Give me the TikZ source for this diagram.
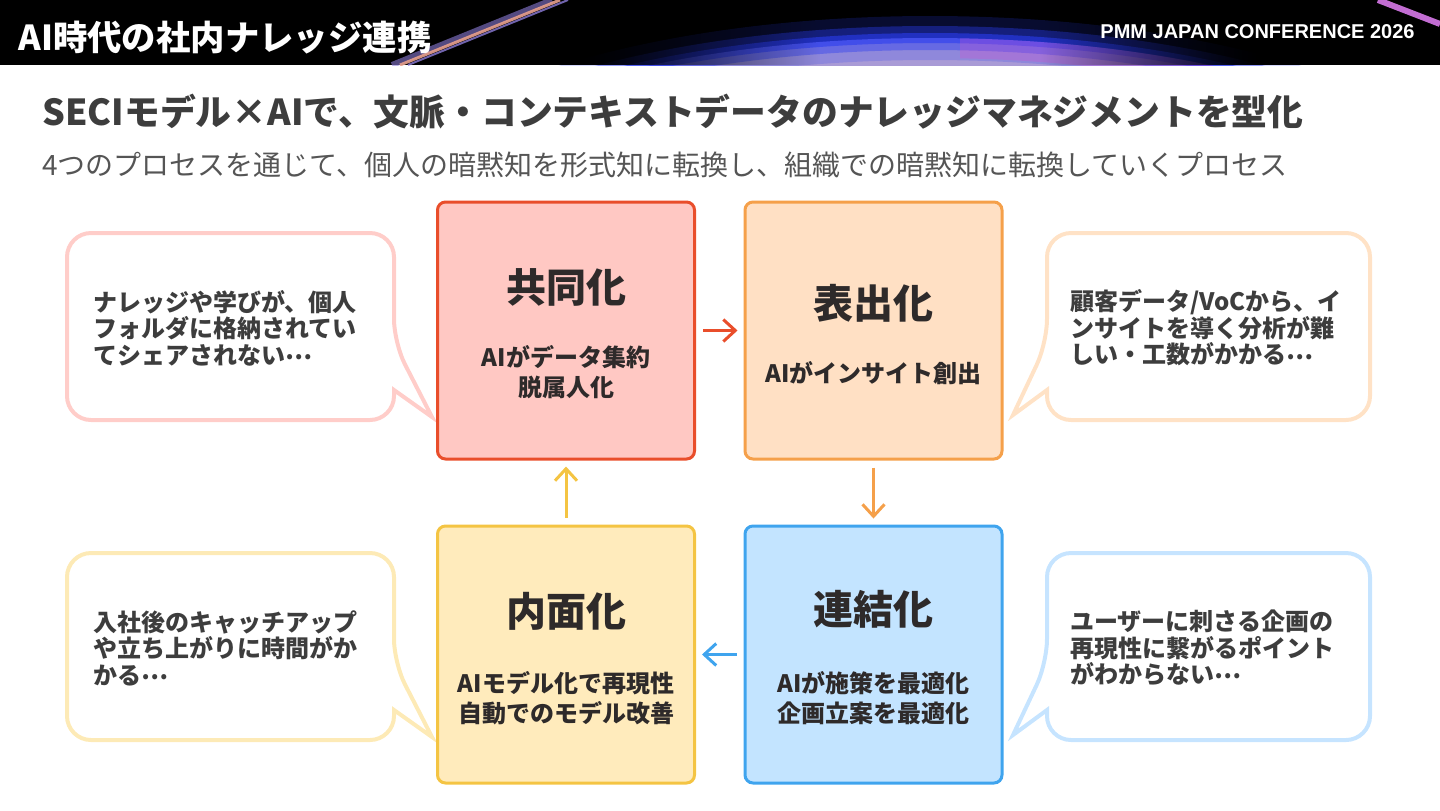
\documentclass[tikz,border=0pt]{standalone}
\usepackage{fontspec}
\setmainfont{Noto Sans CJK JP}
\newfontfamily\pmmfont{Liberation Sans}
\usetikzlibrary{arrows.meta,fadings}

\definecolor{socline}{HTML}{E94E2B}
\definecolor{socfill}{HTML}{FFC8C3}
\definecolor{extline}{HTML}{F5A04A}
\definecolor{extfill}{HTML}{FFE0C4}
\definecolor{comline}{HTML}{3FA4EE}
\definecolor{comfill}{HTML}{C3E4FF}
\definecolor{intline}{HTML}{F4C443}
\definecolor{intfill}{HTML}{FFEBBC}
\definecolor{socbub}{HTML}{FFCDC9}
\definecolor{extbub}{HTML}{FFE2C6}
\definecolor{combub}{HTML}{C6E4FF}
\definecolor{intbub}{HTML}{FDEAB6}
\definecolor{ink}{HTML}{2E2A2A}
\definecolor{txt}{HTML}{3D3D3D}
\definecolor{subtxt}{HTML}{555555}
\definecolor{glowblue}{HTML}{2A3CF0}
\definecolor{glowlav}{HTML}{A99BD6}
\definecolor{glowpink}{HTML}{D24FD0}
\definecolor{streaka}{HTML}{E8A08C}
\definecolor{streakb}{HTML}{8C7CD8}

% raised ellipsis
\newcommand{\dotsjp}{\raisebox{.2em}{…}}

\begin{document}
\begin{tikzpicture}[x=0.5pt,y=-0.5pt,
  procbox/.style={draw, line width=1.5pt, rounded corners=4pt, minimum width=128.5pt, minimum height=128.5pt},
  boxtitle/.style={inner sep=0pt, text=ink, font=\bfseries\fontsize{20}{24}\selectfont},
  boxtext/.style={inner sep=0pt, text=ink, align=center, font=\bfseries\fontsize{12}{15}\selectfont},
  bubble/.style={line width=2pt, rounded corners=12pt},
  bubtext/.style={inner sep=0pt, anchor=west, align=left, text=txt, font=\bfseries\fontsize{12}{13.25}\selectfont},
  flow/.style={line width=1.5pt, -{Straight Barb[length=6pt,width=11pt]}, shorten <=3.5pt, shorten >=3pt}]
\useasboundingbox (0,0) rectangle (1440,810);

% header band
\fill[black] (0,0) rectangle (1440,65);
\begin{scope}
  \clip (0,0) rectangle (1440,65);
  \fill[glowlav] (930,258) ellipse [x radius=290pt, y radius=110pt];
  \draw[glowblue, line width=22pt, opacity=.2] (930,258) ellipse [x radius=290pt, y radius=110pt];
  \draw[glowblue, line width=12pt, opacity=.4] (930,258) ellipse [x radius=290pt, y radius=110pt];
  \draw[glowblue, line width=5pt, opacity=.6] (930,258) ellipse [x radius=290pt, y radius=110pt];
  \begin{scope}
    \clip (960,0) rectangle (1440,65);
    \draw[glowpink, line width=10pt, opacity=.3] (930,268) ellipse [x radius=290pt, y radius=110pt];
  \end{scope}
  \fill[black, path fading=east] (580,0) rectangle (820,65);
  \fill[black, path fading=west] (1040,0) rectangle (1260,65);
  \fill[black] (1259,0) rectangle (1440,65);
  \fill[black] (0,0) rectangle (581,65);
  % light streaks
  \draw[streakb, line width=3pt, opacity=.6] (392,65) -- (552,0);
  \draw[streaka, line width=1.5pt, opacity=.9] (400,65) -- (560,0);
  \draw[streakb, line width=1pt, opacity=.8] (408,65) -- (568,0);
  \draw[glowpink!60!glowlav, line width=3pt] (1378,0) -- (1440,24);
\end{scope}

\node[inner sep=0pt, anchor=west, text=white, font=\bfseries\fontsize{17.2}{20}\selectfont] (ttl) at (18,38) {AI時代の社内ナレッジ連携};
\node[inner sep=0pt, anchor=east, text=white, font=\pmmfont\bfseries\fontsize{10}{11}\selectfont] (conf) at (1415,32) {PMM JAPAN CONFERENCE 2026};

% heading
\node[inner sep=0pt, anchor=west, text=txt, font=\bfseries\fontsize{17.9}{20}\selectfont] (head) at (42,112) {SECIモデル×AIで、文脈・コンテキストデータのナレッジマネジメントを型化};
\node[inner sep=0pt, anchor=west, text=subtxt, font=\fontsize{14}{16}\selectfont] (lead) at (42,165) {4つのプロセスを通じて、個人の暗黙知を形式知に転換し、組織での暗黙知に転換していくプロセス};

% bubbles
\draw[bubble, draw=socbub] (394,390) -- (394,420) -- (67,420) -- (67,233) -- (394,233) -- (394,343) [sharp corners] -- (432,417) -- cycle;
\draw[bubble, draw=extbub] (1047,390) -- (1047,420) -- (1370,420) -- (1370,233) -- (1047,233) -- (1047,343) [sharp corners] -- (1013,415) -- cycle;
\draw[bubble, draw=intbub] (394,710) -- (394,740) -- (67,740) -- (67,553) -- (394,553) -- (394,663) [sharp corners] -- (432,737) -- cycle;
\draw[bubble, draw=combub] (1047,710) -- (1047,740) -- (1370,740) -- (1370,553) -- (1047,553) -- (1047,663) [sharp corners] -- (1013,735) -- cycle;

\node[bubtext] (socQ) at (93,328) {ナレッジや学びが、個人\\フォルダに格納されてい\\てシェアされない\dotsjp};
\node[bubtext] (extQ) at (1070,328) {顧客データ/VoCから、イ\\ンサイトを導く分析が難\\しい・工数がかかる\dotsjp};
\node[bubtext] (intQ) at (93,648) {入社後のキャッチアップ\\や立ち上がりに時間がか\\かる\dotsjp};
\node[bubtext] (comQ) at (1070,648) {ユーザーに刺さる企画の\\再現性に繋がるポイント\\がわからない\dotsjp};

% SECI boxes
\node[procbox, draw=socline, fill=socfill] (soc) at (566,330.5) {};
\node[procbox, draw=extline, fill=extfill] (ext) at (873.5,330.5) {};
\node[procbox, draw=comline, fill=comfill] (com) at (873.5,654.5) {};
\node[procbox, draw=intline, fill=intfill] (int) at (566,654.5) {};

\node[boxtitle] (socT) at (566,287) {共同化};
\node[boxtext] (socD) at (566,372) {AIがデータ集約\\脱属人化};
\node[boxtitle] (extT) at (873.5,303) {表出化};
\node[boxtext] (extD) at (873.5,373) {AIがインサイト創出};
\node[boxtitle] (comT) at (873.5,609) {連結化};
\node[boxtext] (comD) at (873.5,698) {AIが施策を最適化\\企画立案を最適化};
\node[boxtitle] (intT) at (566,611) {内面化};
\node[boxtext] (intD) at (566,698) {AIモデル化で再現性\\自動でのモデル改善};

\foreach \a/\b/\c in {soc/ext/socline, ext/com/extline, com/int/comline, int/soc/intline}
	\draw[flow, \c] (\a) -- (\b);
\end{tikzpicture}
\end{document}
